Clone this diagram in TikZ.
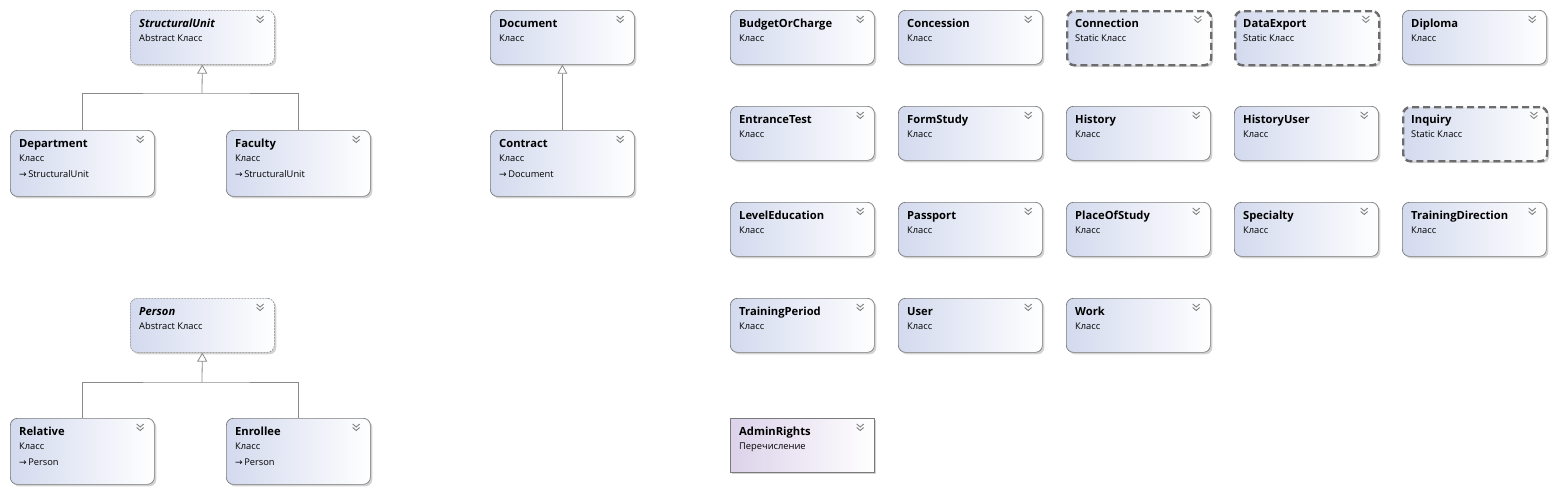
\documentclass[tikz,border=0pt]{standalone}
\usepackage{fontspec}
\setmainfont{Open Sans}
\newfontfamily\arrowfont{DejaVu Sans}
\usetikzlibrary{shadows,arrows.meta}

\definecolor{boxblue}{HTML}{D3DAEE}
\definecolor{boxlilac}{HTML}{DCD2EA}
\definecolor{edgegray}{HTML}{7A7A7A}
\definecolor{staticgray}{HTML}{6C6C6C}
\definecolor{linkgray}{HTML}{8A8A8A}

\tikzset{
  classbox/.style={draw=edgegray, line width=0.7pt, rounded corners=7pt,
    minimum width=144pt, minimum height=54pt, anchor=north west, inner sep=0pt,
    left color=boxblue, right color=white,
    drop shadow={shadow xshift=2pt, shadow yshift=-2pt, opacity=0.35}},
  childbox/.style={classbox, minimum height=66pt},
  abstractbox/.style={classbox, draw=linkgray, line width=0.6pt, dash pattern=on 2pt off 1pt},
  staticbox/.style={classbox, draw=staticgray, line width=2.4pt, dash pattern=on 7pt off 4pt},
  enumbox/.style={classbox, rounded corners=0pt, left color=boxlilac, right color=white},
  titletext/.style={anchor=base west, inner sep=0pt, font=\fontsize{11.2}{13}\selectfont\bfseries},
  kindtext/.style={anchor=base west, inner sep=0pt, font=\fontsize{9.3}{11}\selectfont},
  chevron/.style={draw=gray, line width=0.9pt},
  link/.style={draw=linkgray, line width=0.8pt},
  inherit/.style={link, -{Triangle[length=9pt, width=10pt, fill=white]}},
}

% box with title, kind and collapse chevron
\newcommand\umlbox[6]{%
  \node[#4] (#1) at (#2,#3) {};
  \node[titletext] (#1-title) at ([xshift=9pt, yshift=-17.5pt]#1.north west) {#5};
  \node[kindtext] (#1-kind) at ([xshift=9pt, yshift=-31.5pt]#1.north west) {#6};
  \draw[chevron] ([xshift=-18pt, yshift=-6pt]#1.north east) -- ++(3.5,3) -- ++(3.5,-3)
                 ([xshift=-18pt, yshift=-9.5pt]#1.north east) -- ++(3.5,3) -- ++(3.5,-3);
}
% base class line
\newcommand\baseclass[2]{%
  \node[kindtext] (#1-base) at ([xshift=9pt, yshift=-47.5pt]#1.north west) {{\arrowfont\fontsize{9}{11}\selectfont→}\,#2};
}

\begin{document}
\begin{tikzpicture}[x=1pt, y=-1pt]
  \useasboundingbox (0,0) rectangle (1555,493);

  % StructuralUnit hierarchy
  \umlbox{su}{130}{10}{abstractbox}{\itshape StructuralUnit}{Abstract Класс}
  \umlbox{dep}{10}{130}{childbox}{Department}{Класс}
  \baseclass{dep}{StructuralUnit}
  \umlbox{fac}{226}{130}{childbox}{Faculty}{Класс}
  \baseclass{fac}{StructuralUnit}
  \coordinate (su-join) at (202,93);
  \draw[link] (dep.north) |- (su-join) -| (fac.north);
  \draw[inherit] (su-join) -- (su.south);

  % Document hierarchy
  \umlbox{doc}{490}{10}{classbox}{Document}{Класс}
  \umlbox{con}{490}{130}{childbox}{Contract}{Класс}
  \baseclass{con}{Document}
  \draw[inherit] (con.north) -- (doc.south);

  % Person hierarchy
  \umlbox{per}{130}{298}{abstractbox}{\itshape Person}{Abstract Класс}
  \umlbox{rel}{10}{418}{childbox}{Relative}{Класс}
  \baseclass{rel}{Person}
  \umlbox{enr}{226}{418}{childbox}{Enrollee}{Класс}
  \baseclass{enr}{Person}
  \coordinate (per-join) at (202,382);
  \draw[link] (rel.north) |- (per-join) -| (enr.north);
  \draw[inherit] (per-join) -- (per.south);

  % standalone classes
  \foreach \name/\col/\row/\sty/\kind in {
      BudgetOrCharge/0/0/classbox/Класс, Concession/1/0/classbox/Класс,
      Connection/2/0/staticbox/Static Класс, DataExport/3/0/staticbox/Static Класс,
      Diploma/4/0/classbox/Класс,
      EntranceTest/0/1/classbox/Класс, FormStudy/1/1/classbox/Класс,
      History/2/1/classbox/Класс, HistoryUser/3/1/classbox/Класс,
      Inquiry/4/1/staticbox/Static Класс,
      LevelEducation/0/2/classbox/Класс, Passport/1/2/classbox/Класс,
      PlaceOfStudy/2/2/classbox/Класс, Specialty/3/2/classbox/Класс,
      TrainingDirection/4/2/classbox/Класс,
      TrainingPeriod/0/3/classbox/Класс, User/1/3/classbox/Класс,
      Work/2/3/classbox/Класс}
    \umlbox{\name}{730+168*\col}{10+96*\row}{\sty}{\name}{\kind};

  % enumeration
  \umlbox{AdminRights}{730}{418}{enumbox}{AdminRights}{Перечисление}
\end{tikzpicture}
\end{document}
